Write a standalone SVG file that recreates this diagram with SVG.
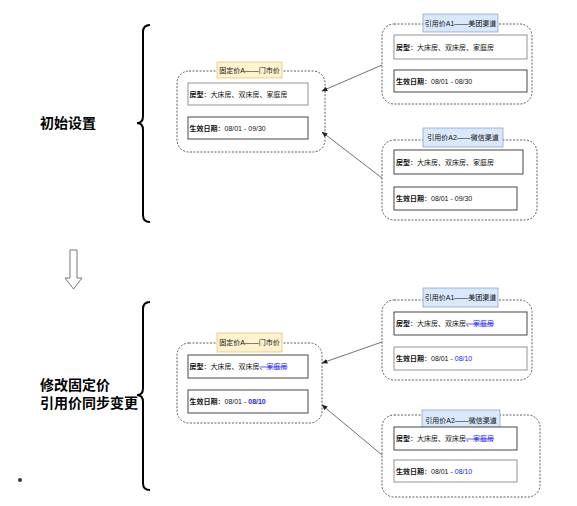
<svg xmlns="http://www.w3.org/2000/svg" width="577" height="506" viewBox="0 0 577 506">
<defs>
<style>
.outer{fill:none;stroke:#333;stroke-width:0.8;stroke-dasharray:2 1.5}
.box{fill:#fff;stroke:#333;stroke-width:0.9}
.boxg{fill:#fff;stroke:#888;stroke-width:0.9}
.ylab{fill:#fff2cc;stroke:#d6b656;stroke-width:0.6}
.blab{fill:#dae8fc;stroke:#6c8ebf;stroke-width:0.6}
text{font-family:"Liberation Sans","Noto Sans CJK SC",sans-serif;font-size:7px;fill:#111}
.b{font-weight:bold}
.blue{fill:#1a1aff}
.big{font-size:14px;font-weight:bold;fill:#000}
.brace{fill:none;stroke:#000;stroke-width:2}
.conn{fill:none;stroke:#333;stroke-width:0.7}
</style>
<marker id="ah" viewBox="0 0 10 10" refX="9" refY="5" markerWidth="6" markerHeight="6" orient="auto-start-reverse" markerUnits="userSpaceOnUse">
<path d="M0,1 L10,5 L0,9 Z" fill="#222"/>
</marker>
</defs>
<rect width="577" height="506" fill="#fff"/>

<g id="labels-left">
<text class="big" x="40" y="128">初始设置</text>
<text class="big" x="40" y="390">修改固定价</text>
<text class="big" x="40" y="408">引用价同步变更</text>
<circle cx="20" cy="480" r="2" fill="#333"/>
</g>

<g id="brace-top"><path class="brace" d="M150,25 Q143,25 143,32 L143,116 Q143,123 137,123 Q143,123 143,130 L143,215 Q143,222 150,222"/></g>
<g id="brace-bottom"><path class="brace" d="M150,302 Q143,302 143,309 L143,388 Q143,395 137,395 Q143,395 143,402 L143,483 Q143,490 150,490"/></g>
<g id="down-arrow"><polygon points="70,250 77,250 77,278 82,278 73.5,289 65,278 70,278" fill="#fff" stroke="#555" stroke-width="0.8"/></g>

<g id="fixed-top">
<rect class="outer" x="177" y="71" width="148" height="81" rx="12"/>
<rect class="ylab" x="217" y="62" width="65" height="16"/>
<text x="249.5" y="72.5" text-anchor="middle">固定价A——门市价</text>
<rect class="boxg" x="188" y="83" width="120" height="22"/>
<text x="189.5" y="96.5"><tspan class="b">房型</tspan>：大床房、双床房、家庭房</text>
<rect class="box" x="188" y="117" width="120" height="22"/>
<text x="189.5" y="130.5"><tspan class="b">生效日期</tspan>：08/01 - 09/30</text>
</g>

<g id="a1-top">
<rect class="outer" x="382" y="24" width="150" height="80" rx="12"/>
<rect class="blab" x="423" y="14" width="75" height="18"/>
<text x="460.5" y="25.5" text-anchor="middle">引用价A1——美团渠道</text>
<rect class="boxg" x="394" y="35" width="133" height="24"/>
<text x="396" y="49.5"><tspan class="b">房型</tspan>：大床房、双床房、家庭房</text>
<rect class="box" x="394" y="70" width="133" height="22"/>
<text x="396" y="83.5"><tspan class="b">生效日期</tspan>：08/01 - 08/30</text>
</g>

<g id="a2-top">
<rect class="outer" x="382" y="140" width="155" height="80" rx="12"/>
<rect class="blab" x="423" y="128" width="80" height="19"/>
<text x="463" y="140" text-anchor="middle">引用价A2——微信渠道</text>
<rect class="box" x="394" y="150" width="129" height="24"/>
<text x="396" y="164.5"><tspan class="b">房型</tspan>：大床房、双床房、家庭房</text>
<rect class="box" x="394" y="187" width="123" height="23"/>
<text x="396" y="201"><tspan class="b">生效日期</tspan>：08/01 - 09/30</text>
</g>

<g id="fixed-bottom">
<rect class="outer" x="177" y="343" width="145" height="80" rx="12"/>
<rect class="ylab" x="217" y="333" width="65" height="19"/>
<text x="249.5" y="345" text-anchor="middle">固定价A——门市价</text>
<rect class="box" x="188" y="355" width="120" height="23"/>
<text x="189.5" y="369"><tspan class="b">房型</tspan>：大床房、双床房<tspan class="blue" text-decoration="line-through">、家庭房</tspan></text>
<rect class="box" x="188" y="390" width="120" height="23"/>
<text x="189.5" y="404"><tspan class="b">生效日期</tspan>：08/01 - <tspan class="b blue">08/10</tspan></text>
</g>

<g id="a1-bottom">
<rect class="outer" x="382" y="300" width="150" height="80" rx="12"/>
<rect class="blab" x="423" y="288" width="75" height="19"/>
<text x="460.5" y="300" text-anchor="middle">引用价A1——美团渠道</text>
<rect class="box" x="394" y="312" width="133" height="23"/>
<text x="396" y="326"><tspan class="b">房型</tspan>：大床房、双床房<tspan class="blue" text-decoration="line-through">、家庭房</tspan></text>
<rect class="boxg" x="394" y="347" width="133" height="23"/>
<text x="396" y="361"><tspan class="b">生效日期</tspan>：08/01 - <tspan class="blue">08/10</tspan></text>
</g>

<g id="a2-bottom">
<rect class="outer" x="382" y="415" width="158" height="82" rx="12"/>
<rect class="blab" x="422" y="410" width="78" height="20"/>
<text x="461" y="422.5" text-anchor="middle">引用价A2——微信渠道</text>
<rect class="box" x="394" y="427" width="123" height="23"/>
<text x="396" y="441"><tspan class="b">房型</tspan>：大床房、双床房<tspan class="blue" text-decoration="line-through">、家庭房</tspan></text>
<rect class="boxg" x="394" y="460" width="123" height="22"/>
<text x="396" y="473.5"><tspan class="b">生效日期</tspan>：08/01 - <tspan class="blue">08/10</tspan></text>
</g>

<g id="connectors">
<line class="conn" x1="382" y1="65" x2="322" y2="91" marker-end="url(#ah)"/>
<line class="conn" x1="382" y1="178" x2="322" y2="132" marker-end="url(#ah)"/>
<line class="conn" x1="382" y1="342" x2="322" y2="363" marker-end="url(#ah)"/>
<line class="conn" x1="382" y1="455" x2="322" y2="405" marker-end="url(#ah)"/>
</g>
</svg>
